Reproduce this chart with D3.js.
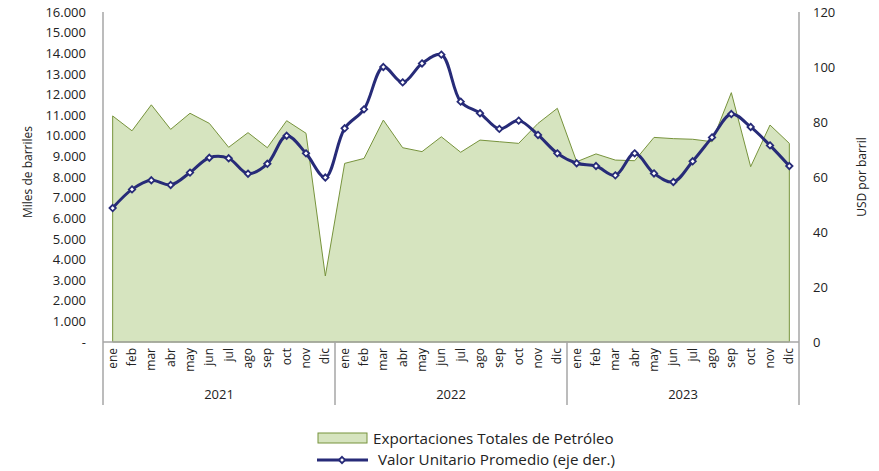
<!DOCTYPE html>
<html>
<head>
<meta charset="utf-8">
<script src="https://cdn.jsdelivr.net/npm/d3@7"></script>
<style>
  body { margin: 0; background: #fff; }
  svg text { font-family: "Open Sans", sans-serif; fill: #222; }
</style>
</head>
<body>
<div id="chart"></div>
<script>
const months = ["ene","feb","mar","abr","may","jun","jul","ago","sep","oct","nov","dic"];
const years = ["2021","2022","2023"];

// Exportaciones Totales de Petróleo (miles de barriles)
const exportaciones = [
  10960, 10240, 11500, 10310, 11090, 10600, 9440, 10150, 9420, 10730, 10120, 3200,
  8660, 8900, 10760, 9420, 9230, 9950, 9200, 9790, 9710, 9630, 10600, 11330,
  8740, 9120, 8820, 8790, 9920, 9860, 9830, 9710, 12090, 8500, 10520, 9630
];

// Valor Unitario Promedio (USD por barril, eje der.)
const valorUnitario = [
  48.7, 55.5, 58.8, 57.1, 61.6, 67.0, 66.8, 61.2, 64.8, 75.0, 68.6, 59.8,
  77.7, 84.6, 100.0, 94.4, 101.3, 104.5, 87.4, 83.2, 77.5, 80.5, 75.3, 68.6,
  65.0, 64.0, 60.6, 68.6, 61.3, 58.2, 65.7, 74.4, 82.9, 78.2, 71.5, 64.0
];

const leftTicks = d3.range(0, 16001, 1000);
const rightTicks = [0, 20, 40, 60, 80, 100, 120];

const W = 879, H = 471;
const plot = { left: 103, right: 799, top: 12, bottom: 342 };

const svg = d3.select("#chart").append("svg")
  .attr("width", W).attr("height", H);

const keys = [];
years.forEach(y => months.forEach(m => keys.push(y + "-" + m)));
const data = keys.map((k, i) => ({ key: k, year: k.slice(0, 4), month: k.slice(5), exp: exportaciones[i], val: valorUnitario[i] }));

const x = d3.scaleBand().domain(keys).range([plot.left, plot.right]).padding(0);
const cx = k => x(k) + x.bandwidth() / 2;
const yL = d3.scaleLinear().domain([0, 16000]).range([plot.bottom, plot.top]);
const yR = d3.scaleLinear().domain([0, 120]).range([plot.bottom, plot.top]);

const loc = d3.formatLocale({ decimal: ",", thousands: ".", grouping: [3], currency: ["", ""] });
const fmtL = v => v === 0 ? "-" : loc.format(",")(v);

const green = "#d6e4bf", olive = "#77933c", navy = "#272b78", axisGray = "#a6a6a6";

// area
const area = d3.area()
  .x(d => cx(d.key))
  .y0(yL(0))
  .y1(d => yL(d.exp));
svg.append("path")
  .datum(data)
  .attr("d", area)
  .attr("fill", green)
  .attr("stroke", olive)
  .attr("stroke-width", 1);

// left axis
const gl = svg.append("g").attr("transform", `translate(${plot.left},0)`)
  .call(d3.axisLeft(yL).tickValues(leftTicks).tickFormat(fmtL).tickSize(0).tickPadding(17));
gl.select(".domain").remove();
gl.selectAll("text").style("font-size", "13px").attr("fill", "#222");

// right axis
const gr = svg.append("g").attr("transform", `translate(${plot.right},0)`)
  .call(d3.axisRight(yR).tickValues(rightTicks).tickSize(0).tickPadding(14));
gr.select(".domain").remove();
gr.selectAll("text").style("font-size", "13px").attr("fill", "#222");

// axis lines
svg.append("line").attr("x1", plot.left).attr("x2", plot.left).attr("y1", plot.top).attr("y2", 405)
  .attr("stroke", axisGray).attr("stroke-width", 1.5);
svg.append("line").attr("x1", plot.right).attr("x2", plot.right).attr("y1", plot.top).attr("y2", 405)
  .attr("stroke", axisGray).attr("stroke-width", 1.5);
svg.append("line").attr("x1", plot.left).attr("x2", plot.right).attr("y1", plot.bottom).attr("y2", plot.bottom)
  .attr("stroke", axisGray).attr("stroke-width", 1.5);
years.slice(1).forEach(yr => {
  const xs = x(yr + "-ene");
  svg.append("line").attr("x1", xs).attr("x2", xs).attr("y1", plot.bottom).attr("y2", 405)
    .attr("stroke", axisGray).attr("stroke-width", 1.5);
});

// month labels
svg.append("g").selectAll("text").data(data).join("text")
  .attr("transform", d => `translate(${cx(d.key) + 4},348) rotate(-90)`)
  .attr("text-anchor", "end")
  .style("font-size", "12px")
  .text(d => d.month);

// year labels
svg.append("g").selectAll("text").data(years).join("text")
  .attr("x", yr => (x(yr + "-ene") + x(yr + "-dic") + x.bandwidth()) / 2)
  .attr("y", 399)
  .attr("text-anchor", "middle")
  .style("font-size", "13px")
  .text(yr => yr);

// axis titles
svg.append("text")
  .attr("transform", "translate(32,172) rotate(-90)")
  .attr("text-anchor", "middle")
  .style("font-size", "12px")
  .text("Miles de barriles");
svg.append("text")
  .attr("transform", "translate(866,177) rotate(-90)")
  .attr("text-anchor", "middle")
  .style("font-size", "12px")
  .text("USD por barril");

// line
const line = d3.line()
  .x(d => cx(d.key))
  .y(d => yR(d.val))
  .curve(d3.curveCatmullRom.alpha(0.5));
svg.append("path")
  .datum(data)
  .attr("d", line)
  .attr("fill", "none")
  .attr("stroke", navy)
  .attr("stroke-width", 3);

const diamond = d3.symbol().type(d3.symbolDiamond2).size(26);
svg.append("g").selectAll("path").data(data).join("path")
  .attr("transform", d => `translate(${cx(d.key)},${yR(d.val)})`)
  .attr("d", diamond)
  .attr("fill", "#fff")
  .attr("stroke", navy)
  .attr("stroke-width", 1.8);

// legend
const lg = svg.append("g");
lg.append("rect").attr("x", 318).attr("y", 433).attr("width", 49).attr("height", 10)
  .attr("fill", green).attr("stroke", olive).attr("stroke-width", 1);
lg.append("text").attr("x", 373).attr("y", 444).style("font-size", "15.2px")
  .text("Exportaciones Totales de Petróleo");
lg.append("line").attr("x1", 317).attr("x2", 368).attr("y1", 460).attr("y2", 460)
  .attr("stroke", navy).attr("stroke-width", 3);
lg.append("path").attr("transform", "translate(342,460)").attr("d", diamond)
  .attr("fill", "#fff").attr("stroke", navy).attr("stroke-width", 1.8);
lg.append("text").attr("x", 378).attr("y", 465).style("font-size", "15.2px")
  .text("Valor Unitario Promedio (eje der.)");
</script>
</body>
</html>
